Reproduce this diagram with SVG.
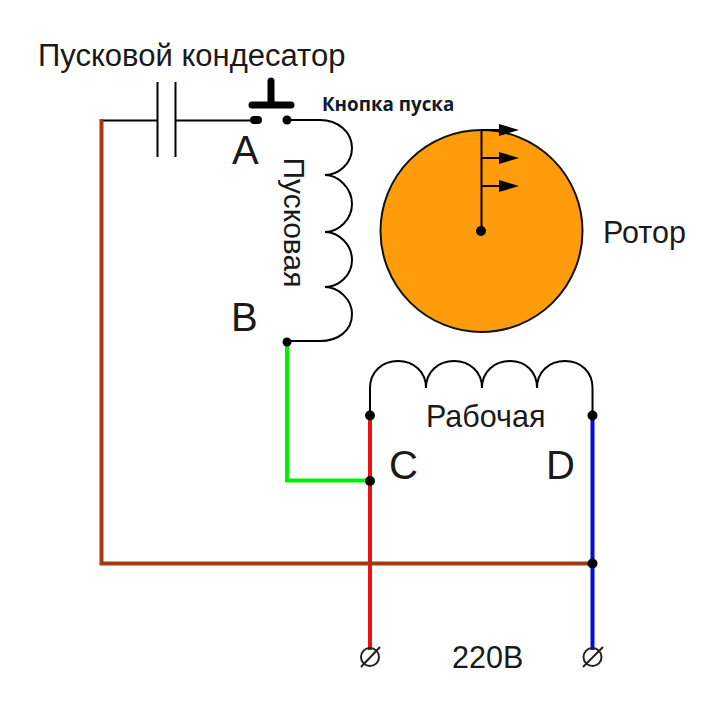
<svg xmlns="http://www.w3.org/2000/svg" width="726" height="712" viewBox="0 0 726 712">
<style>
text{font-family:"Liberation Sans",Arial,sans-serif;fill:#1a1a1a}
.lbl{font-size:30.500px}
.big{font-size:40px}
.thin{fill:none;stroke:#000;stroke-width:2}
.dot{fill:#000}
.term{fill:none;stroke:#222;stroke-width:2}
</style>
<defs>
<marker id="head" markerUnits="userSpaceOnUse" markerWidth="20" markerHeight="12" refX="0" refY="6" orient="auto"><path d="M0 0L20 6L0 12Z" fill="#000"/></marker>
</defs>
<rect width="726" height="712" fill="#fff"/>
<g id="connectors">
<path d="M101.500 120.500H157.500M175.500 120.500H250" class="thin"/>
<path d="M287 120H320C338 120 352 132 352 148C352 164 338 175 325 175C338 175 352 188 352 204C352 220 338 232 325 232C338 232 352 244 352 260C352 276 338 287 325 287C338 287 352 299 352 314C352 331 338 341 320 341H287" class="thin"/>
<path d="M370 415V388C370 372 382 361 398 361C414 361 426 372 426 388C426 372 438 361 454 361C470 361 482 372 482 388C482 372 494 361 510 361C526 361 537 372 537 388C537 372 549 361 565 361C581 361 592.500 372 592.500 388V415" class="thin"/>
<path d="M287 342V480.500H370" fill="none" stroke="#00f000" stroke-width="4"/>
<path d="M370 415V650" fill="none" stroke="#f01010" stroke-width="4"/>
<path d="M592.500 415V650" fill="none" stroke="#0808e0" stroke-width="4"/>
<path d="M101.500 119V563.500H592" fill="none" stroke="#a33a10" stroke-width="4"/>
</g>
<g id="capacitor">
<path d="M157.500 82V157M175.500 82V157" class="thin"/>
</g>
<g id="button">
<path d="M271 81V104" stroke="#000" stroke-width="7" stroke-linecap="round"/>
<path d="M252 105H291" stroke="#000" stroke-width="7" stroke-linecap="round"/>
<rect x="250" y="116" width="12" height="8" rx="4" class="dot"/>
<circle cx="287" cy="120" r="4.500" class="dot"/>
<text x="322" y="111" style="font-family:'Open Sans',sans-serif;font-size:18.800px;font-weight:700;fill:#0f1a2a">Кнопка пуска</text>
</g>
<g id="rotor">
<circle cx="481.500" cy="231" r="101" fill="#ff9c0c" stroke="#111" stroke-width="2"/>
<path d="M481.500 130V231" class="thin"/>
<path d="M481.500 130H499" class="thin" marker-end="url(#head)"/>
<path d="M481.500 158H499" class="thin" marker-end="url(#head)"/>
<path d="M481.500 186H499" class="thin" marker-end="url(#head)"/>
<circle cx="481" cy="231" r="5" class="dot"/>
</g>
<g id="dots">
<circle cx="287" cy="342" r="4.500" class="dot"/>
<circle cx="370" cy="415.500" r="5" class="dot"/>
<circle cx="592.500" cy="415.500" r="5" class="dot"/>
<circle cx="370" cy="481" r="5" class="dot"/>
<circle cx="592.500" cy="563.500" r="5" class="dot"/>
</g>
<g id="terminal-left">
<circle cx="370" cy="657" r="9" class="term"/><path d="M361 667L380 647" class="term"/>
</g>
<g id="terminal-right">
<circle cx="592.500" cy="657" r="9" class="term"/><path d="M583 667L603 647" class="term"/>
</g>
<g id="labels">
<text x="38" y="66" style="font-size:31px">Пусковой кондесатор</text>
<text x="232" y="164" class="big">A</text>
<text x="231" y="331" class="big">B</text>
<text x="389" y="479" class="big">C</text>
<text x="546" y="479" class="big">D</text>
<text transform="translate(284 157.500) rotate(90)" style="font-size:30px">Пусковая</text>
<text x="426" y="427" class="lbl">Рабочая</text>
<text x="603" y="243" class="lbl">Ротор</text>
<text x="452" y="668" class="lbl">220В</text>
</g>
</svg>
